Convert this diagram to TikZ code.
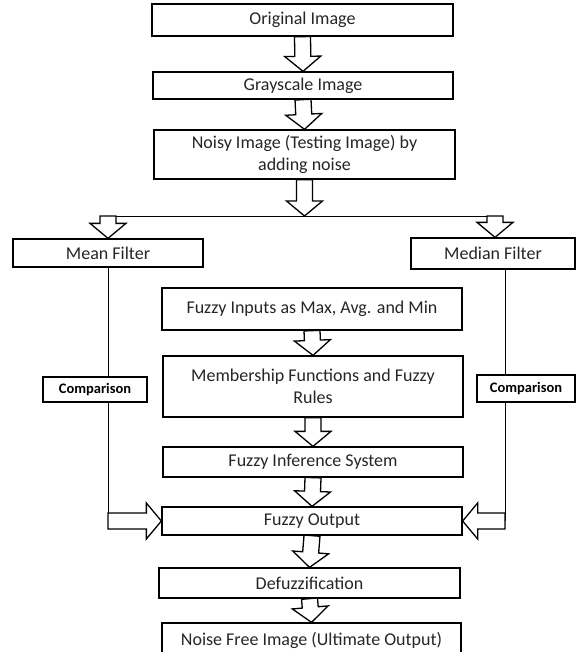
\documentclass[tikz,border=0pt]{standalone}
\usepackage{fontspec}
\setmainfont{Carlito}
\usepackage{tikz}
\usetikzlibrary{calc,positioning}

% block arrow sizes
\def\sw{8pt}
\def\hw{18pt}
\def\hl{15pt}
% hollow block arrow from #1 to #2
\newcommand{\fatarrow}[2]{%
	\coordinate (fah) at ($(#2)!\hl!(#1)$);
	\draw[fat] ($(#1)!\sw!90:(#2)$) -- ($(fah)!\sw!90:(#2)$) -- ($(fah)!\hw!90:(#2)$) -- (#2)
		-- ($(fah)!\hw!-90:(#2)$) -- ($(fah)!\sw!-90:(#2)$) -- ($(#1)!\sw!-90:(#2)$) -- cycle;}

\begin{document}
\begin{tikzpicture}[x=1pt, y=-1pt,
	box/.style={draw, line width=1.3pt, fill=white, inner sep=0pt, align=center,
		text=black!85, font=\fontsize{18}{21.5}\selectfont},
	cmpbox/.style={draw, line width=1.3pt, fill=white, inner sep=0pt,
		font=\fontsize{14.5}{17}\selectfont\bfseries},
	fat/.style={draw, line width=1.3pt, fill=white, line join=miter},
	wire/.style={draw, line width=0.9pt}]
	\useasboundingbox (0,0) rectangle (576,652);
	\clip (0,0) rectangle (576,652);
	% main column
	\node[box, minimum width=301pt, minimum height=32pt] (orig) at (302.5,20) {Original Image};
	\node[box, minimum width=300pt, minimum height=27pt] (gray) at (303,85.5) {Grayscale Image};
	\node[box, minimum width=301pt, minimum height=49pt] (noisy) at (304.5,154.5) {Noisy Image (Testing Image) by\\adding noise};
	% filters
	\node[box, minimum width=190pt, minimum height=28pt] (mean) at (108,253) {Mean Filter};
	\node[box, minimum width=164pt, minimum height=31pt] (median) at (493,253.5) {Median Filter};
	% fuzzy part
	\node[box, minimum width=300pt, minimum height=42pt] (inputs) at (312,309) {Fuzzy Inputs as Max, Avg. and Min};
	\node[box, minimum width=300pt, minimum height=61pt] (member) at (313,386.5) {Membership Functions and Fuzzy\\Rules};
	\node[box, minimum width=300pt, minimum height=30pt] (fis) at (313,462) {Fuzzy Inference System};
	\node[box, minimum width=300pt, minimum height=28pt] (fout) at (312,521) {Fuzzy Output};
	\node[box, minimum width=301pt, minimum height=30pt] (defuzz) at (309.5,583) {Defuzzification};
	\node[box, minimum width=299pt, minimum height=34pt] (nfree) at (311.5,640) {Noise Free Image (Ultimate Output)};
	% split line
	\coordinate (splitL) at (108,216);
	\coordinate (splitR) at (495,216);
	\coordinate (split) at (noisy.south |- splitL);
	\draw[wire] (splitL) -- (splitR);
	% side lines
	\coordinate (topR) at ($(median.south)+(12,0)$);
	\coordinate (sideL) at (mean.south |- fout.west);
	\coordinate (sideR) at (topR |- fout.east);
	\draw[wire] (mean.south) -- (sideL);
	\draw[wire] (topR) -- (sideR);
	\node[cmpbox, minimum width=104pt, minimum height=25pt] (cmpL) at (95,389.5) {Comparison};
	\node[cmpbox, minimum width=98pt, minimum height=27pt] (cmpR) at (526,388.5) {Comparison};
	% block arrows
	\fatarrow{orig.south}{gray.north}
	\fatarrow{gray.south}{noisy.north}
	\fatarrow{noisy.south}{split}
	\fatarrow{splitL}{mean.north}
	\fatarrow{splitR}{median.north -| splitR}
	\fatarrow{inputs.south}{member.north}
	\fatarrow{member.south}{fis.north}
	\fatarrow{fis.south}{fout.north}
	\fatarrow{fout.south}{defuzz.north}
	\fatarrow{defuzz.south}{nfree.north}
	\fatarrow{sideL}{fout.west}
	\fatarrow{sideR}{fout.east}
\end{tikzpicture}
\end{document}
